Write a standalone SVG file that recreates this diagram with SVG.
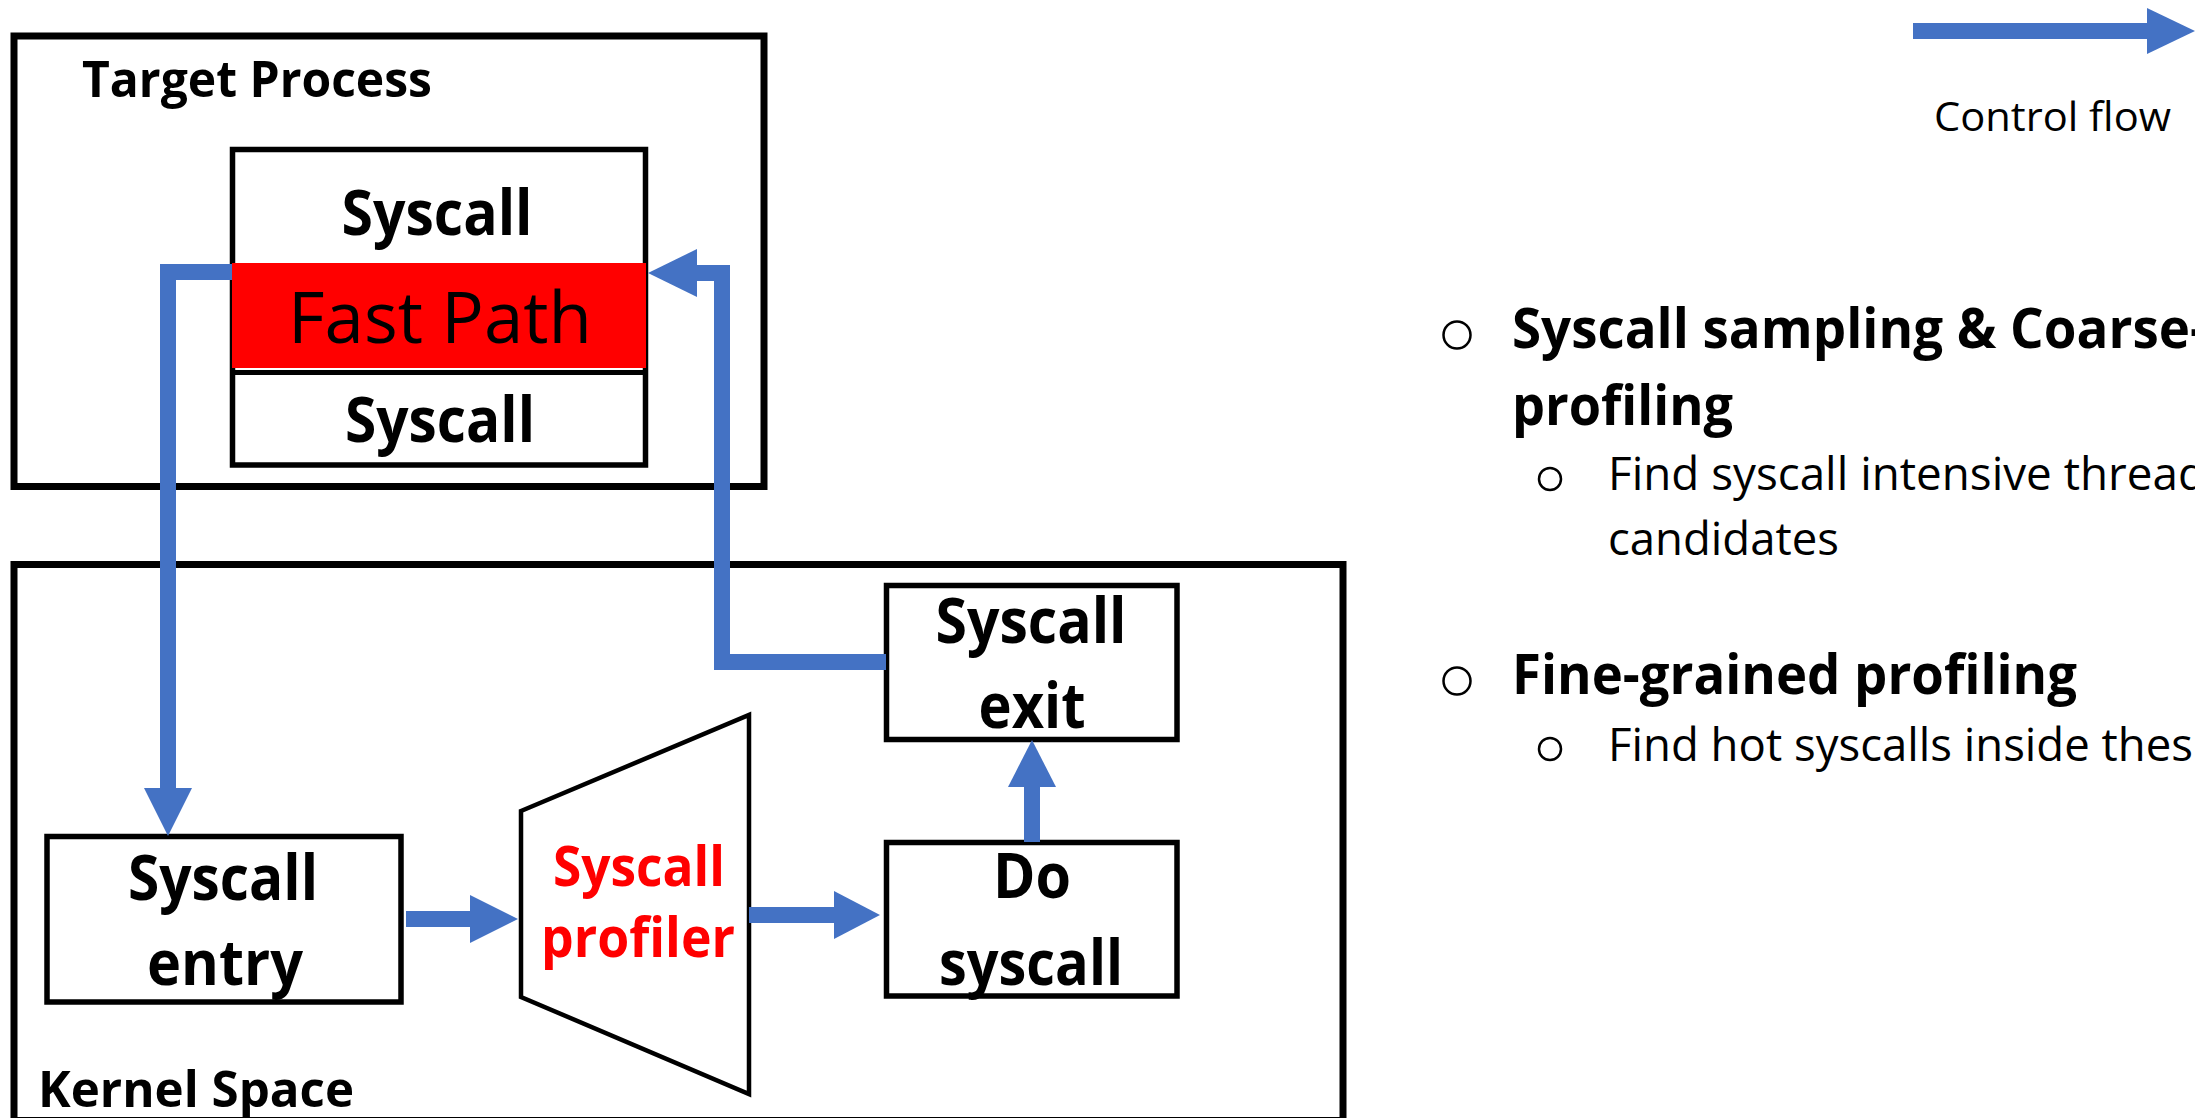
<svg xmlns="http://www.w3.org/2000/svg" width="2195" height="1118" viewBox="0 0 2195 1118">
  <defs>
    <style>
      .frame { fill: none; stroke: #000; stroke-width: 7; }
      .box { fill: #fff; stroke: #000; stroke-width: 5.5; }
      .flow { fill: none; stroke: #4472C4; stroke-width: 16; stroke-linejoin: miter; stroke-linecap: butt; }
      .head { fill: #4472C4; stroke: none; }
      .lbl { font-family: "Open Sans", "Liberation Sans", sans-serif; font-weight: 700; fill: #000; }
      .reg { font-family: "Open Sans", "Liberation Sans", sans-serif; font-weight: 400; fill: #000; }
      .mid { text-anchor: middle; }
      .bullet { fill: none; stroke: #000; stroke-width: 2.5; }
    </style>
  </defs>
  <rect width="2195" height="1118" fill="#fff"/>

  <!-- user-space process container -->
  <g id="target-process">
    <rect class="frame" x="14" y="36" width="750" height="450.5"/>
    <text class="lbl" x="82" y="97" font-size="50" textLength="350" lengthAdjust="spacingAndGlyphs">Target Process</text>
  </g>

  <!-- stacked syscall cells with the fast path in the middle -->
  <g id="syscall-stack">
    <rect class="box" x="232.5" y="149.5" width="413" height="315.5"/>
    <text class="lbl mid" x="437" y="235" font-size="62" textLength="191" lengthAdjust="spacingAndGlyphs">Syscall</text>
    <line x1="232.5" y1="372.5" x2="645.5" y2="372.5" stroke="#000" stroke-width="5"/>
    <text class="lbl mid" x="440" y="442" font-size="62" textLength="190" lengthAdjust="spacingAndGlyphs">Syscall</text>
  </g>
  <g id="fast-path">
    <rect x="232" y="263" width="414" height="105" fill="#FF0000"/>
    <text class="reg mid" x="440" y="343" font-size="72" textLength="304" lengthAdjust="spacingAndGlyphs">Fast Path</text>
  </g>

  <!-- kernel container -->
  <g id="kernel-space">
    <rect class="frame" x="14" y="564.5" width="1329" height="556"/>
    <text class="lbl" x="38" y="1107" font-size="50" textLength="316" lengthAdjust="spacingAndGlyphs">Kernel Space</text>
  </g>

  <g id="syscall-entry">
    <rect class="box" x="47" y="836.5" width="354" height="165.5"/>
    <text class="lbl mid" x="223" y="900" font-size="62" textLength="190" lengthAdjust="spacingAndGlyphs">Syscall</text>
    <text class="lbl mid" x="225" y="985" font-size="62" textLength="156" lengthAdjust="spacingAndGlyphs">entry</text>
  </g>

  <g id="syscall-profiler">
    <polygon points="521,811 749,715 749,1094 521,997" fill="#fff" stroke="#000" stroke-width="4.5"/>
    <text class="lbl mid" x="639" y="886" font-size="56" fill="#FF0000" style="fill:#FF0000" textLength="172" lengthAdjust="spacingAndGlyphs">Syscall</text>
    <text class="lbl mid" x="638" y="957" font-size="56" style="fill:#FF0000" textLength="194" lengthAdjust="spacingAndGlyphs">profiler</text>
  </g>

  <g id="do-syscall">
    <rect class="box" x="886.5" y="842.5" width="290.5" height="153.5"/>
    <text class="lbl mid" x="1032" y="898" font-size="62" textLength="78" lengthAdjust="spacingAndGlyphs">Do</text>
    <text class="lbl mid" x="1031" y="985" font-size="62" textLength="184" lengthAdjust="spacingAndGlyphs">syscall</text>
  </g>

  <g id="syscall-exit">
    <rect class="box" x="886.5" y="585.5" width="290.5" height="154"/>
    <text class="lbl mid" x="1031" y="643" font-size="62" textLength="191" lengthAdjust="spacingAndGlyphs">Syscall</text>
    <text class="lbl mid" x="1032" y="728" font-size="62" textLength="107" lengthAdjust="spacingAndGlyphs">exit</text>
  </g>

  <!-- control-flow connectors -->
  <g id="connectors">
    <path class="flow" d="M232,272 H168 V790"/>
    <polygon class="head" points="144,788 192,788 168,836"/>

    <path class="flow" d="M406,919 H472"/>
    <polygon class="head" points="470,895 470,943 518,919"/>

    <path class="flow" d="M749,915 H836"/>
    <polygon class="head" points="834,891 834,939 880,915"/>

    <path class="flow" d="M1032,842 V785"/>
    <polygon class="head" points="1008,787 1056,787 1032,740"/>

    <path class="flow" d="M886,662 H722 V273 H697"/>
    <polygon class="head" points="697,249 697,297 648,273"/>
  </g>

  <!-- legend -->
  <g id="legend">
    <path class="flow" d="M1913,31 H2149"/>
    <polygon class="head" points="2147,8 2147,54 2195,31"/>
    <text class="reg" x="1934" y="131" font-size="41" textLength="237" lengthAdjust="spacingAndGlyphs">Control flow</text>
  </g>

  <!-- notes -->
  <g id="notes">
    <circle class="bullet" cx="1457" cy="335" r="13.5"/>
    <text class="lbl" x="1512" y="348" font-size="55" textLength="695" lengthAdjust="spacingAndGlyphs">Syscall sampling &amp; Coarse-</text>
    <text class="lbl" x="1512" y="425" font-size="55" textLength="221" lengthAdjust="spacingAndGlyphs">profiling</text>

    <circle class="bullet" cx="1550" cy="479" r="11"/>
    <text class="reg" x="1608" y="490" font-size="46" textLength="598" lengthAdjust="spacingAndGlyphs">Find syscall intensive thread</text>
    <text class="reg" x="1608" y="555" font-size="46" textLength="231" lengthAdjust="spacingAndGlyphs">candidates</text>

    <circle class="bullet" cx="1457" cy="681" r="13.5"/>
    <text class="lbl" x="1512" y="694" font-size="55" textLength="565" lengthAdjust="spacingAndGlyphs">Fine-grained profiling</text>

    <circle class="bullet" cx="1550" cy="749" r="11"/>
    <text class="reg" x="1608" y="761" font-size="46" textLength="585" lengthAdjust="spacingAndGlyphs">Find hot syscalls inside thes</text>
  </g>
</svg>
